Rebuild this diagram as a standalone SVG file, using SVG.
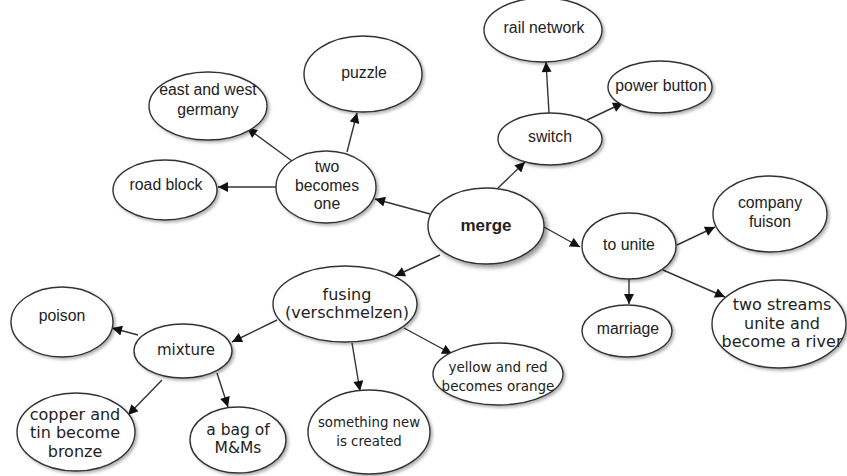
<svg xmlns="http://www.w3.org/2000/svg" width="847" height="476" viewBox="0 0 847 476">
<style>
.n ellipse{fill:#fff;stroke:#333;stroke-width:1.4;filter:url(#sh)}
.t{font-family:"Liberation Sans",Arial,sans-serif;font-size:15.8px;fill:#222;text-anchor:middle}
.v{font-family:"DejaVu Sans",Verdana,sans-serif;font-size:16px;fill:#222;text-anchor:middle}
.c line{stroke:#333;stroke-width:1.4;marker-end:url(#ar)}
</style>
<defs>
<filter id="sh" x="-20%" y="-20%" width="150%" height="150%"><feDropShadow dx="2" dy="2" stdDeviation="1.5" flood-color="#000" flood-opacity="0.3"/></filter>
<filter id="sh2" x="-20%" y="-20%" width="150%" height="150%"><feDropShadow dx="3" dy="3" stdDeviation="2" flood-color="#000" flood-opacity="0.4"/></filter>
<marker id="ar" viewBox="0 0 10 10" refX="10" refY="5" markerWidth="12" markerHeight="10" markerUnits="userSpaceOnUse" orient="auto"><path d="M0,0 L10,5 L0,10 Z" fill="#111"/></marker>
</defs>
<rect width="847" height="476" fill="#fff"/>
<g id="connectors" class="c">
<line x1="430" y1="214" x2="375" y2="199"/>
<line x1="498" y1="188" x2="525" y2="162"/>
<line x1="544" y1="227" x2="580" y2="247"/>
<line x1="440" y1="255" x2="395" y2="276"/>
<line x1="292" y1="161" x2="247" y2="128"/>
<line x1="347" y1="152" x2="357" y2="113"/>
<line x1="277" y1="187" x2="218" y2="187"/>
<line x1="549" y1="113" x2="546" y2="62"/>
<line x1="587" y1="120" x2="623" y2="103"/>
<line x1="677" y1="245" x2="715" y2="227"/>
<line x1="629" y1="278" x2="629" y2="304"/>
<line x1="663" y1="270" x2="725" y2="297"/>
<line x1="404" y1="328" x2="452" y2="354"/>
<line x1="352" y1="343" x2="360" y2="391"/>
<line x1="277" y1="320" x2="232" y2="342"/>
<line x1="138" y1="335" x2="112" y2="328"/>
<line x1="162" y1="380" x2="128" y2="415"/>
<line x1="217" y1="373" x2="228" y2="407"/>
</g>
<g id="merge" class="n"><ellipse cx="486" cy="226" rx="58" ry="38" style="filter:url(#sh2)"/><text x="486" y="231" class="t" style="font-weight:bold;font-size:17px">merge</text></g>
<g id="two-becomes-one" class="n"><ellipse cx="326" cy="187" rx="50" ry="36"/><text class="t" x="327" y="172">two</text><text class="t" x="327" y="191">becomes</text><text class="t" x="327" y="209">one</text></g>
<g id="east-west" class="n"><ellipse cx="208" cy="106" rx="59" ry="34"/><text class="t" x="208" y="95">east and west</text><text class="t" x="208" y="115">germany</text></g>
<g id="puzzle" class="n"><ellipse cx="363" cy="74" rx="59" ry="38"/><text class="t" x="364" y="78">puzzle</text></g>
<g id="road-block" class="n"><ellipse cx="165" cy="190" rx="52" ry="30"/><text class="t" x="166" y="190">road block</text></g>
<g id="switch" class="n"><ellipse cx="550" cy="139" rx="52" ry="26"/><text class="t" x="550" y="142">switch</text></g>
<g id="rail-network" class="n"><ellipse cx="543" cy="30" rx="59" ry="32"/><text class="t" x="544" y="33">rail network</text></g>
<g id="power-button" class="n"><ellipse cx="660" cy="87" rx="52" ry="26"/><text class="t" x="661" y="91">power button</text></g>
<g id="to-unite" class="n"><ellipse cx="629" cy="246" rx="47" ry="33"/><text class="t" x="629" y="250">to unite</text></g>
<g id="company-fuison" class="n"><ellipse cx="770" cy="214" rx="57" ry="38"/><text class="t" x="770" y="208">company</text><text class="t" x="770" y="227">fuison</text></g>
<g id="marriage" class="n"><ellipse cx="627" cy="331" rx="45" ry="26"/><text class="t" x="628" y="334">marriage</text></g>
<g id="two-streams" class="n"><ellipse cx="779" cy="324" rx="67" ry="44"/><text class="v" x="782" y="310">two streams</text><text class="v" x="782" y="329">unite and</text><text class="v" x="782" y="347">become a river</text></g>
<g id="fusing" class="n"><ellipse cx="345" cy="304" rx="72" ry="38"/><text class="v" x="347" y="300">fusing</text><text class="v" x="347" y="318">(verschmelzen)</text></g>
<g id="yellow-red" class="n"><ellipse cx="498" cy="374" rx="65" ry="31"/><text class="v" x="498" y="372" style="font-size:13.5px">yellow and red</text><text class="v" x="498" y="391" style="font-size:13.5px">becomes orange</text></g>
<g id="something-new" class="n"><ellipse cx="369" cy="432" rx="61" ry="42"/><text class="v" x="369" y="427" style="font-size:13.3px">something new</text><text class="v" x="369" y="446" style="font-size:13.3px">is created</text></g>
<g id="mixture" class="n"><ellipse cx="183" cy="351" rx="49" ry="27"/><text class="v" x="186" y="355" style="font-size:15px">mixture</text></g>
<g id="poison" class="n"><ellipse cx="62" cy="322" rx="51" ry="35"/><text class="t" x="62" y="321">poison</text></g>
<g id="copper" class="n"><ellipse cx="76" cy="432" rx="59" ry="39"/><text class="v" x="75" y="420">copper and</text><text class="v" x="75" y="438">tin become</text><text class="v" x="75" y="457">bronze</text></g>
<g id="mms" class="n"><ellipse cx="238" cy="440" rx="48" ry="33"/><text class="v" x="238" y="435" style="font-size:15.5px">a bag of</text><text class="v" x="238" y="453" style="font-size:15.5px">M&amp;Ms</text></g>
</svg>
